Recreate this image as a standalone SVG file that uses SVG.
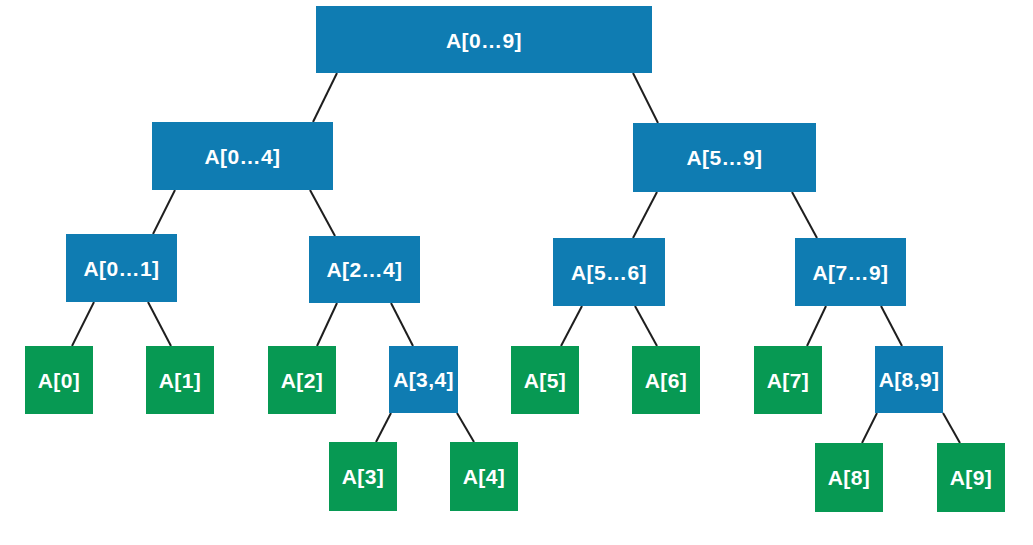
<svg xmlns="http://www.w3.org/2000/svg" width="1033" height="545" viewBox="0 0 1033 545">
<style>
.b{fill:#0f7cb2}
.g{fill:#079953}
text{font-family:"Liberation Sans",Arial,sans-serif;font-weight:bold;font-size:21px;fill:#ffffff;text-anchor:middle;dominant-baseline:central;letter-spacing:0.4px}
#edges line{stroke:#1e1e1e;stroke-width:2}
</style>
<rect width="1033" height="545" fill="#ffffff"/>
<g id="edges">
<line x1="337" y1="73" x2="313" y2="122"/>
<line x1="633" y1="73" x2="658" y2="123"/>
<line x1="175" y1="190" x2="153" y2="234"/>
<line x1="310" y1="190" x2="335" y2="236"/>
<line x1="657" y1="192" x2="633" y2="238"/>
<line x1="792" y1="192" x2="817" y2="238"/>
<line x1="94" y1="302" x2="72" y2="346"/>
<line x1="148" y1="302" x2="171" y2="346"/>
<line x1="337" y1="303" x2="317" y2="346"/>
<line x1="391" y1="303" x2="413" y2="346"/>
<line x1="582" y1="306" x2="561" y2="346"/>
<line x1="635" y1="306" x2="657" y2="346"/>
<line x1="826" y1="306" x2="807" y2="346"/>
<line x1="881" y1="306" x2="902" y2="346"/>
<line x1="391" y1="413" x2="376" y2="442"/>
<line x1="457" y1="413" x2="474" y2="442"/>
<line x1="877" y1="413" x2="862" y2="443"/>
<line x1="943" y1="413" x2="960" y2="443"/>
</g>
<g id="n0-9"><rect class="b" x="316" y="6" width="336" height="67"/><text x="484" y="40">A[0…9]</text></g>
<g id="n0-4"><rect class="b" x="152" y="122" width="181" height="68"/><text x="242.5" y="156">A[0…4]</text></g>
<g id="n5-9"><rect class="b" x="633" y="123" width="183" height="69"/><text x="724.5" y="157.5">A[5…9]</text></g>
<g id="n0-1"><rect class="b" x="66" y="234" width="111" height="68"/><text x="121.5" y="268">A[0…1]</text></g>
<g id="n2-4"><rect class="b" x="309" y="236" width="111" height="67"/><text x="364.5" y="269.5">A[2…4]</text></g>
<g id="n5-6"><rect class="b" x="553" y="238" width="112" height="68"/><text x="609" y="272">A[5…6]</text></g>
<g id="n7-9"><rect class="b" x="795" y="238" width="111" height="68"/><text x="850.5" y="272">A[7…9]</text></g>
<g id="n0"><rect class="g" x="25" y="346" width="68" height="68"/><text x="59" y="380">A[0]</text></g>
<g id="n1"><rect class="g" x="146" y="346" width="68" height="68"/><text x="180" y="380">A[1]</text></g>
<g id="n2"><rect class="g" x="268" y="346" width="68" height="68"/><text x="302" y="380">A[2]</text></g>
<g id="n3-4"><rect class="b" x="389" y="346" width="69" height="67"/><text x="423.5" y="379.5">A[3,4]</text></g>
<g id="n5"><rect class="g" x="511" y="346" width="68" height="68"/><text x="545" y="380">A[5]</text></g>
<g id="n6"><rect class="g" x="632" y="346" width="68" height="68"/><text x="666" y="380">A[6]</text></g>
<g id="n7"><rect class="g" x="754" y="346" width="68" height="68"/><text x="788" y="380">A[7]</text></g>
<g id="n8-9"><rect class="b" x="875" y="346" width="68" height="67"/><text x="909" y="379.5">A[8,9]</text></g>
<g id="n3"><rect class="g" x="329" y="442" width="68" height="69"/><text x="363" y="476.5">A[3]</text></g>
<g id="n4"><rect class="g" x="450" y="442" width="68" height="69"/><text x="484" y="476.5">A[4]</text></g>
<g id="n8"><rect class="g" x="815" y="443" width="68" height="69"/><text x="849" y="477.5">A[8]</text></g>
<g id="n9"><rect class="g" x="937" y="443" width="68" height="69"/><text x="971" y="477.5">A[9]</text></g>
</svg>
